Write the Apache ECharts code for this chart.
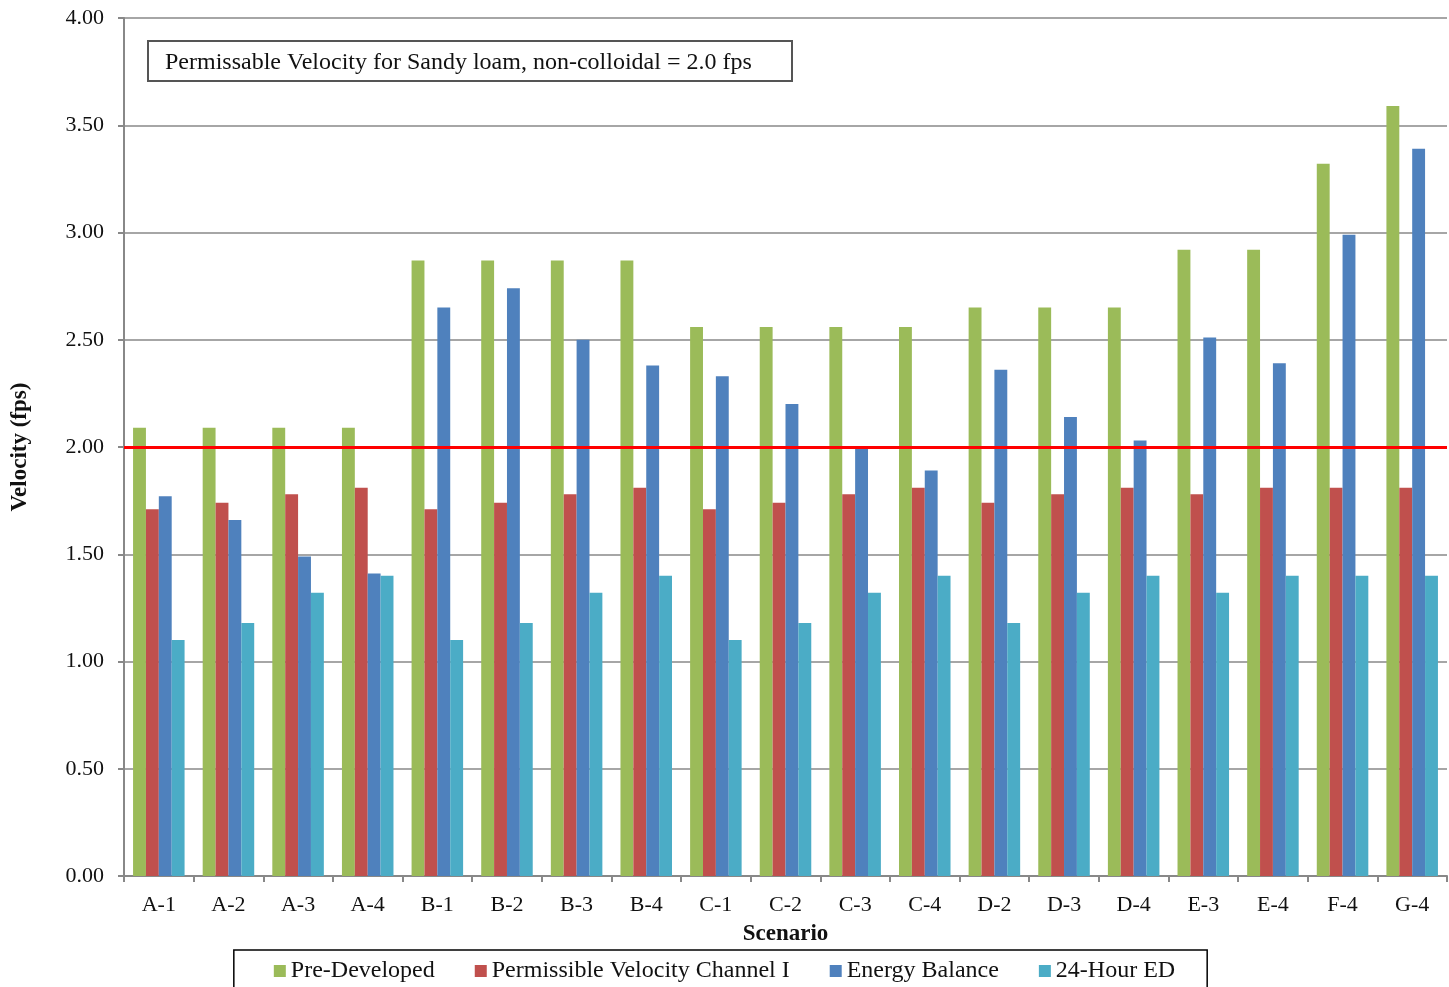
<!DOCTYPE html>
<html>
<head>
<meta charset="utf-8">
<script src="https://cdn.jsdelivr.net/npm/echarts@6/dist/echarts.min.js"></script>
<style>
  html, body { margin: 0; padding: 0; background: #fff; }
  #main { width: 1449px; height: 987px; }
</style>
</head>
<body>
<div id="main"></div>
<script>
var scenarios = ['A-1', 'A-2', 'A-3', 'A-4', 'B-1', 'B-2', 'B-3', 'B-4', 'C-1', 'C-2',
  'C-3', 'C-4', 'D-2', 'D-3', 'D-4', 'E-3', 'E-4', 'F-4', 'G-4'];
var preDeveloped = [2.09, 2.09, 2.09, 2.09, 2.87, 2.87, 2.87, 2.87, 2.56, 2.56,
  2.56, 2.56, 2.65, 2.65, 2.65, 2.92, 2.92, 3.32, 3.59];
var permissible = [1.71, 1.74, 1.78, 1.81, 1.71, 1.74, 1.78, 1.81, 1.71, 1.74,
  1.78, 1.81, 1.74, 1.78, 1.81, 1.78, 1.81, 1.81, 1.81];
var energyBalance = [1.77, 1.66, 1.49, 1.41, 2.65, 2.74, 2.50, 2.38, 2.33, 2.20,
  2.00, 1.89, 2.36, 2.14, 2.03, 2.51, 2.39, 2.99, 3.39];
var hour24 = [1.10, 1.18, 1.32, 1.40, 1.10, 1.18, 1.32, 1.40, 1.10, 1.18,
  1.32, 1.40, 1.18, 1.32, 1.40, 1.32, 1.40, 1.40, 1.40];
var limitValue = 2.0;

var serif = '"Liberation Serif", "DejaVu Serif", serif';
var chart = echarts.init(document.getElementById('main'));

function bar(name, data, color) {
  return {
    name: name,
    type: 'bar',
    data: data,
    barGap: '0%',
    barCategoryGap: '26%',
    itemStyle: { color: color },
    emphasis: { disabled: true }
  };
}

var series = [
  bar('Pre-Developed', preDeveloped, '#9bbb59'),
  bar('Permissible Velocity Channel I', permissible, '#c0504d'),
  bar('Energy Balance', energyBalance, '#4f81bd'),
  bar('24-Hour ED', hour24, '#4bacc6')
];
// red line for permissible velocity
series[0].markLine = {
  silent: true,
  symbol: ['none', 'none'],
  label: { show: false },
  lineStyle: { color: '#ff0000', width: 3, type: 'solid' },
  data: [{ yAxis: limitValue }]
};

chart.setOption({
  animation: false,
  textStyle: { fontFamily: serif },
  grid: { left: 124, right: 2, top: 18, bottom: 111 },
  legend: {
    data: ['Pre-Developed', 'Permissible Velocity Channel I', 'Energy Balance', '24-Hour ED'],
    left: 'center',
    top: 950,
    icon: 'rect',
    itemWidth: 12,
    itemHeight: 12,
    itemGap: 40,
    padding: [9, 32, 14, 40],
    borderColor: '#000',
    borderWidth: 1.5,
    textStyle: { fontFamily: serif, fontSize: 24, color: '#111' }
  },
  xAxis: {
    type: 'category',
    data: scenarios,
    name: 'Scenario',
    nameLocation: 'middle',
    nameGap: 47,
    nameTextStyle: { fontFamily: serif, fontSize: 23, fontWeight: 'bold', color: '#111' },
    axisLine: { lineStyle: { color: '#888', width: 2 } },
    axisTick: { show: true, alignWithLabel: false, length: 6, lineStyle: { color: '#888', width: 2 } },
    axisLabel: { fontFamily: serif, fontSize: 22, color: '#111', margin: 18 }
  },
  yAxis: {
    type: 'value',
    min: 0,
    max: 4,
    interval: 0.5,
    name: 'Velocity (fps)',
    nameLocation: 'middle',
    nameGap: 92,
    nameTextStyle: { fontFamily: serif, fontSize: 23, fontWeight: 'bold', color: '#111' },
    axisLine: { show: true, lineStyle: { color: '#888', width: 2 } },
    axisTick: { show: true, length: 6, lineStyle: { color: '#888', width: 2 } },
    axisLabel: {
      fontFamily: serif, fontSize: 22, color: '#111', margin: 20,
      formatter: function (v) { return v.toFixed(2); }
    },
    splitLine: { lineStyle: { color: '#a6a6a6', width: 2 } }
  },
  graphic: [{
    type: 'group',
    left: 147,
    top: 40,
    children: [{
      type: 'rect',
      shape: { x: 0, y: 0, width: 644, height: 40 },
      style: { fill: '#fff', stroke: '#555', lineWidth: 2 }
    }, {
      type: 'text',
      x: 17,
      y: 22,
      style: {
        text: 'Permissable Velocity for Sandy loam, non-colloidal = 2.0 fps',
        font: '24px ' + serif,
        fill: '#111',
        verticalAlign: 'middle'
      }
    }]
  }],
  series: series
});
</script>
</body>
</html>
